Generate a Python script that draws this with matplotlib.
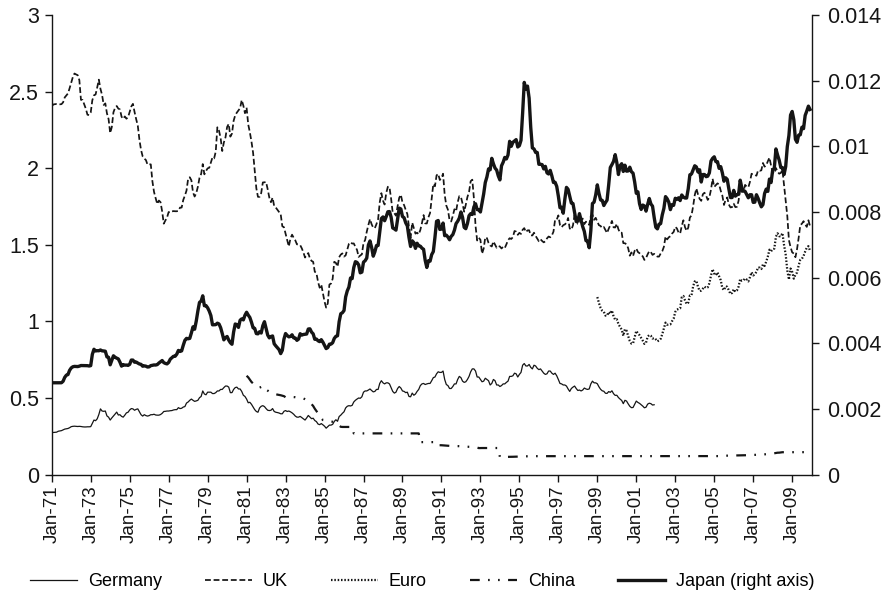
import numpy as np
import matplotlib
matplotlib.use("Agg")
import matplotlib.pyplot as plt
from matplotlib.lines import Line2D

# Monthly averages, January 1971 - December 2009
first_year = 1971
n_months = 468

tick_labels = ["Jan-71", "Jan-73", "Jan-75", "Jan-77", "Jan-79", "Jan-81", "Jan-83",
               "Jan-85", "Jan-87", "Jan-89", "Jan-91", "Jan-93", "Jan-95", "Jan-97",
               "Jan-99", "Jan-01", "Jan-03", "Jan-05", "Jan-07", "Jan-09"]

# Japan: yen per US dollar (plotted as dollars per yen on the right axis)
japan_yen = [
    358.0, 357.5, 357.6, 357.5, 357.5, 357.4, 357.4, 351.6, 337.6, 330.2, 328.1, 314.8,
    307.8, 304.4, 303.4, 303.7, 303.9, 302.7, 301.0, 301.1, 301.1, 301.1, 301.4, 302.3,
    301.3, 273.0, 261.9, 265.5, 264.9, 265.1, 263.4, 265.3, 265.5, 266.1, 279.0, 280.0,
    299.0, 287.6, 276.3, 279.7, 281.9, 283.8, 291.9, 302.7, 298.4, 299.9, 299.7, 300.6,
    297.8, 286.6, 286.7, 292.1, 291.6, 294.4, 296.8, 297.8, 302.9, 301.9, 302.8, 305.2,
    304.6, 301.3, 300.4, 299.4, 299.6, 298.4, 294.2, 291.1, 287.8, 293.2, 295.3, 296.5,
    292.6, 284.4, 280.9, 277.4, 277.4, 272.6, 264.4, 266.6, 265.3, 253.8, 244.5, 241.0,
    241.7, 241.0, 231.7, 222.2, 225.8, 213.8, 200.6, 190.6, 189.2, 183.6, 194.4, 194.2,
    196.8, 200.8, 206.4, 219.2, 219.1, 218.9, 216.8, 217.9, 223.3, 232.5, 243.6, 239.7,
    237.7, 244.0, 248.9, 251.9, 230.4, 218.0, 218.9, 223.0, 212.7, 210.8, 212.2, 206.0,
    202.2, 205.8, 208.9, 215.4, 223.6, 224.6, 232.8, 233.2, 229.8, 231.9, 220.4, 214.7,
    224.3, 235.3, 240.1, 237.8, 236.8, 251.0, 255.1, 258.7, 262.7, 271.3, 264.1, 242.5,
    232.7, 236.0, 238.3, 237.7, 234.8, 240.1, 240.4, 244.5, 242.3, 233.0, 235.3, 234.3,
    233.9, 233.5, 225.5, 225.2, 230.4, 233.2, 242.7, 242.2, 245.3, 246.9, 243.3, 247.9,
    254.2, 260.5, 258.4, 251.7, 251.6, 248.9, 241.1, 237.4, 236.5, 214.7, 204.1, 202.8,
    200.1, 184.8, 178.7, 175.1, 167.0, 167.5, 158.6, 154.2, 154.7, 156.5, 162.7, 162.1,
    154.5, 153.5, 151.6, 143.0, 140.5, 144.5, 150.3, 147.3, 143.3, 143.3, 135.4, 128.2,
    127.4, 129.3, 127.2, 124.9, 124.8, 127.5, 133.1, 133.6, 134.3, 128.5, 123.2, 123.6,
    127.2, 127.8, 130.4, 132.0, 138.4, 143.9, 140.4, 141.5, 145.1, 141.9, 143.5, 143.7,
    145.0, 145.7, 153.3, 158.5, 153.5, 153.8, 149.2, 147.2, 138.4, 129.6, 129.2, 133.9,
    133.7, 130.5, 137.4, 137.1, 138.2, 139.8, 137.8, 136.8, 134.3, 130.8, 129.6, 128.0,
    125.0, 127.6, 132.8, 133.5, 130.8, 126.8, 125.8, 126.2, 122.6, 121.2, 123.9, 123.9,
    125.0, 120.8, 117.0, 112.4, 110.3, 107.4, 107.7, 103.8, 105.6, 107.1, 107.8, 109.9,
    111.4, 106.3, 105.1, 103.5, 104.0, 102.7, 98.5, 100.0, 98.8, 98.4, 98.0, 100.2,
    99.8, 98.2, 90.8, 83.7, 85.2, 84.5, 87.2, 94.6, 100.5, 100.8, 101.9, 101.9,
    105.8, 105.8, 105.9, 107.4, 106.5, 108.8, 109.2, 107.9, 109.9, 112.4, 112.3, 113.9,
    117.9, 123.0, 122.8, 125.6, 119.2, 114.3, 115.1, 117.9, 120.9, 121.1, 125.4, 129.7,
    129.5, 125.8, 129.1, 132.4, 135.0, 140.3, 140.7, 144.7, 134.5, 121.1, 120.5, 117.4,
    113.3, 116.7, 119.5, 119.7, 122.0, 120.7, 119.6, 113.3, 106.9, 105.9, 104.8, 102.6,
    105.2, 109.4, 106.3, 105.6, 108.3, 106.1, 108.2, 108.1, 106.8, 108.4, 108.9, 112.2,
    116.7, 116.1, 121.2, 123.8, 121.8, 122.2, 124.6, 121.5, 118.9, 121.3, 122.3, 127.6,
    132.7, 133.6, 131.1, 130.8, 126.4, 123.3, 118.1, 119.0, 120.5, 123.9, 121.6, 121.9,
    118.8, 119.3, 118.6, 119.8, 117.4, 118.3, 118.7, 118.7, 114.8, 109.5, 109.2, 107.7,
    106.3, 106.7, 108.5, 107.7, 112.2, 109.4, 109.4, 110.2, 110.0, 108.8, 104.7, 103.8,
    103.3, 104.9, 104.9, 107.2, 106.6, 108.8, 111.9, 110.6, 111.2, 114.9, 118.5, 118.5,
    115.5, 117.9, 117.3, 117.1, 111.5, 114.5, 115.6, 115.9, 117.2, 118.6, 117.3, 117.3,
    120.6, 120.5, 117.3, 118.8, 120.8, 122.6, 121.6, 116.8, 115.0, 115.9, 111.1, 112.4,
    107.8, 107.1, 100.8, 102.7, 104.4, 106.9, 106.9, 109.4, 106.6, 100.1, 96.8, 91.3,
    90.4, 92.5, 97.9, 98.8, 96.7, 96.6, 94.5, 94.9, 91.4, 90.3, 89.1, 89.9,
]

# UK: US dollars per pound
uk = [
    2.404, 2.416, 2.418, 2.419, 2.418, 2.417, 2.418, 2.430, 2.462, 2.475, 2.488, 2.522,
    2.559, 2.595, 2.618, 2.612, 2.607, 2.575, 2.446, 2.446, 2.417, 2.388, 2.349, 2.347,
    2.363, 2.444, 2.476, 2.481, 2.527, 2.578, 2.518, 2.478, 2.413, 2.423, 2.358, 2.321,
    2.229, 2.269, 2.365, 2.394, 2.406, 2.389, 2.384, 2.336, 2.322, 2.338, 2.323, 2.333,
    2.367, 2.403, 2.420, 2.367, 2.320, 2.277, 2.186, 2.119, 2.077, 2.063, 2.053, 2.023,
    2.025, 2.025, 1.914, 1.845, 1.804, 1.766, 1.789, 1.778, 1.718, 1.638, 1.659, 1.678,
    1.714, 1.711, 1.718, 1.720, 1.719, 1.719, 1.721, 1.743, 1.743, 1.793, 1.821, 1.854,
    1.931, 1.941, 1.921, 1.842, 1.815, 1.837, 1.879, 1.937, 1.962, 2.027, 1.960, 1.982,
    1.999, 2.003, 2.036, 2.071, 2.064, 2.108, 2.267, 2.245, 2.197, 2.112, 2.168, 2.201,
    2.269, 2.289, 2.206, 2.226, 2.309, 2.346, 2.363, 2.377, 2.392, 2.445, 2.409, 2.359,
    2.395, 2.286, 2.235, 2.174, 2.101, 1.986, 1.869, 1.813, 1.813, 1.838, 1.907, 1.908,
    1.910, 1.862, 1.808, 1.778, 1.808, 1.752, 1.743, 1.728, 1.714, 1.700, 1.621, 1.615,
    1.573, 1.530, 1.489, 1.541, 1.566, 1.546, 1.529, 1.503, 1.502, 1.498, 1.477, 1.450,
    1.417, 1.435, 1.446, 1.411, 1.395, 1.389, 1.324, 1.316, 1.258, 1.220, 1.240, 1.186,
    1.129, 1.090, 1.118, 1.241, 1.247, 1.278, 1.389, 1.382, 1.357, 1.419, 1.436, 1.444,
    1.423, 1.431, 1.468, 1.506, 1.517, 1.508, 1.509, 1.487, 1.467, 1.421, 1.430, 1.438,
    1.512, 1.531, 1.585, 1.629, 1.668, 1.634, 1.612, 1.609, 1.636, 1.667, 1.777, 1.837,
    1.788, 1.763, 1.838, 1.879, 1.876, 1.801, 1.709, 1.706, 1.690, 1.752, 1.807, 1.827,
    1.776, 1.759, 1.728, 1.701, 1.617, 1.542, 1.645, 1.610, 1.573, 1.579, 1.568, 1.597,
    1.642, 1.694, 1.640, 1.639, 1.680, 1.708, 1.804, 1.897, 1.882, 1.953, 1.963, 1.923,
    1.935, 1.964, 1.826, 1.756, 1.729, 1.660, 1.652, 1.689, 1.732, 1.718, 1.777, 1.818,
    1.813, 1.769, 1.716, 1.762, 1.812, 1.845, 1.915, 1.925, 1.803, 1.623, 1.528, 1.546,
    1.533, 1.442, 1.475, 1.549, 1.544, 1.513, 1.496, 1.489, 1.522, 1.502, 1.481, 1.492,
    1.489, 1.476, 1.487, 1.479, 1.503, 1.530, 1.543, 1.538, 1.550, 1.590, 1.586, 1.565,
    1.578, 1.571, 1.598, 1.609, 1.583, 1.594, 1.595, 1.562, 1.561, 1.579, 1.558, 1.541,
    1.523, 1.536, 1.525, 1.516, 1.523, 1.542, 1.554, 1.549, 1.561, 1.586, 1.664, 1.664,
    1.692, 1.629, 1.614, 1.628, 1.633, 1.644, 1.675, 1.607, 1.598, 1.627, 1.695, 1.659,
    1.637, 1.638, 1.661, 1.671, 1.635, 1.651, 1.645, 1.630, 1.688, 1.697, 1.663, 1.676,
    1.651, 1.628, 1.623, 1.609, 1.616, 1.596, 1.577, 1.605, 1.628, 1.656, 1.614, 1.613,
    1.637, 1.601, 1.578, 1.579, 1.511, 1.510, 1.503, 1.478, 1.429, 1.450, 1.427, 1.461,
    1.476, 1.453, 1.445, 1.435, 1.424, 1.401, 1.414, 1.438, 1.459, 1.452, 1.434, 1.441,
    1.431, 1.423, 1.423, 1.443, 1.458, 1.487, 1.554, 1.535, 1.549, 1.556, 1.573, 1.584,
    1.617, 1.607, 1.581, 1.573, 1.623, 1.660, 1.615, 1.591, 1.612, 1.678, 1.692, 1.751,
    1.824, 1.868, 1.829, 1.800, 1.787, 1.830, 1.840, 1.821, 1.793, 1.810, 1.860, 1.931,
    1.878, 1.889, 1.901, 1.894, 1.853, 1.821, 1.760, 1.794, 1.809, 1.763, 1.744, 1.746,
    1.768, 1.746, 1.748, 1.788, 1.873, 1.845, 1.846, 1.891, 1.880, 1.875, 1.911, 1.964,
    1.959, 1.956, 1.951, 1.986, 1.983, 1.986, 2.034, 2.010, 2.019, 2.045, 2.069, 2.017,
    1.973, 1.965, 2.001, 1.978, 1.964, 1.969, 1.989, 1.890, 1.789, 1.688, 1.530, 1.485,
    1.451, 1.443, 1.419, 1.472, 1.546, 1.628, 1.638, 1.654, 1.633, 1.617, 1.660, 1.622,
]

# Germany: US dollars per Deutsche mark, Jan-71 to Dec-01
germany_start_year = 1971
germany = [
    0.274, 0.275, 0.276, 0.277, 0.283, 0.285, 0.287, 0.292, 0.297, 0.299, 0.301, 0.306,
    0.313, 0.315, 0.316, 0.315, 0.314, 0.315, 0.314, 0.312, 0.311, 0.311, 0.312, 0.312,
    0.313, 0.335, 0.356, 0.352, 0.364, 0.392, 0.429, 0.415, 0.413, 0.415, 0.383, 0.375,
    0.356, 0.370, 0.382, 0.395, 0.408, 0.389, 0.391, 0.380, 0.375, 0.388, 0.403, 0.407,
    0.422, 0.431, 0.429, 0.420, 0.426, 0.429, 0.410, 0.391, 0.382, 0.391, 0.385, 0.382,
    0.385, 0.391, 0.391, 0.394, 0.389, 0.388, 0.388, 0.392, 0.400, 0.412, 0.413, 0.415,
    0.415, 0.417, 0.418, 0.422, 0.424, 0.424, 0.437, 0.431, 0.433, 0.441, 0.444, 0.467,
    0.474, 0.485, 0.493, 0.485, 0.478, 0.481, 0.485, 0.502, 0.510, 0.546, 0.526, 0.521,
    0.538, 0.538, 0.538, 0.529, 0.529, 0.535, 0.546, 0.546, 0.556, 0.556, 0.568, 0.578,
    0.578, 0.571, 0.535, 0.535, 0.556, 0.568, 0.571, 0.559, 0.559, 0.543, 0.518, 0.510,
    0.493, 0.469, 0.472, 0.459, 0.441, 0.424, 0.412, 0.407, 0.435, 0.446, 0.450, 0.444,
    0.431, 0.420, 0.418, 0.420, 0.431, 0.412, 0.407, 0.405, 0.402, 0.397, 0.397, 0.413,
    0.418, 0.412, 0.415, 0.410, 0.403, 0.394, 0.382, 0.375, 0.375, 0.380, 0.372, 0.364,
    0.356, 0.370, 0.386, 0.375, 0.365, 0.368, 0.353, 0.346, 0.330, 0.326, 0.333, 0.325,
    0.316, 0.303, 0.313, 0.323, 0.323, 0.328, 0.347, 0.358, 0.348, 0.379, 0.388, 0.400,
    0.410, 0.435, 0.446, 0.450, 0.448, 0.452, 0.474, 0.485, 0.493, 0.500, 0.498, 0.508,
    0.538, 0.546, 0.546, 0.552, 0.559, 0.549, 0.540, 0.543, 0.556, 0.556, 0.595, 0.613,
    0.599, 0.592, 0.599, 0.599, 0.592, 0.568, 0.543, 0.532, 0.538, 0.562, 0.575, 0.565,
    0.546, 0.543, 0.535, 0.538, 0.510, 0.508, 0.532, 0.518, 0.526, 0.543, 0.556, 0.581,
    0.592, 0.595, 0.588, 0.592, 0.595, 0.595, 0.613, 0.633, 0.637, 0.658, 0.671, 0.667,
    0.667, 0.676, 0.621, 0.588, 0.581, 0.562, 0.562, 0.575, 0.592, 0.592, 0.621, 0.641,
    0.633, 0.610, 0.602, 0.606, 0.621, 0.641, 0.671, 0.690, 0.690, 0.676, 0.637, 0.637,
    0.621, 0.606, 0.610, 0.629, 0.621, 0.613, 0.585, 0.595, 0.621, 0.613, 0.585, 0.585,
    0.575, 0.581, 0.592, 0.592, 0.602, 0.610, 0.641, 0.641, 0.645, 0.662, 0.658, 0.637,
    0.654, 0.667, 0.714, 0.725, 0.709, 0.709, 0.719, 0.700, 0.690, 0.714, 0.709, 0.694,
    0.685, 0.690, 0.676, 0.662, 0.654, 0.658, 0.676, 0.676, 0.662, 0.654, 0.662, 0.645,
    0.621, 0.595, 0.592, 0.585, 0.585, 0.578, 0.559, 0.543, 0.562, 0.571, 0.578, 0.562,
    0.549, 0.552, 0.546, 0.552, 0.565, 0.559, 0.556, 0.559, 0.592, 0.610, 0.599, 0.599,
    0.593, 0.573, 0.557, 0.547, 0.544, 0.531, 0.530, 0.542, 0.537, 0.547, 0.528, 0.517,
    0.518, 0.503, 0.493, 0.484, 0.463, 0.485, 0.480, 0.462, 0.446, 0.437, 0.438, 0.459,
    0.480, 0.471, 0.465, 0.456, 0.447, 0.436, 0.440, 0.460, 0.466, 0.463, 0.454, 0.456,
]

# Euro: US dollars per euro, Jan-99 to Dec-09
euro_start_year = 1999
euro = [
    1.159, 1.120, 1.089, 1.070, 1.063, 1.038, 1.037, 1.061, 1.050, 1.071, 1.033, 1.011,
    1.014, 0.983, 0.964, 0.947, 0.906, 0.949, 0.940, 0.904, 0.872, 0.855, 0.856, 0.897,
    0.938, 0.922, 0.910, 0.892, 0.874, 0.853, 0.861, 0.901, 0.911, 0.906, 0.888, 0.892,
    0.883, 0.870, 0.876, 0.886, 0.917, 0.955, 0.992, 0.978, 0.981, 0.981, 1.001, 1.018,
    1.062, 1.077, 1.081, 1.085, 1.158, 1.166, 1.137, 1.114, 1.122, 1.169, 1.170, 1.229,
    1.261, 1.265, 1.226, 1.199, 1.201, 1.214, 1.227, 1.218, 1.222, 1.249, 1.299, 1.341,
    1.312, 1.301, 1.320, 1.294, 1.269, 1.217, 1.204, 1.229, 1.226, 1.202, 1.179, 1.186,
    1.210, 1.194, 1.202, 1.227, 1.277, 1.265, 1.268, 1.281, 1.273, 1.261, 1.288, 1.321,
    1.300, 1.307, 1.324, 1.352, 1.351, 1.342, 1.372, 1.362, 1.390, 1.423, 1.468, 1.457,
    1.472, 1.475, 1.553, 1.575, 1.556, 1.555, 1.577, 1.498, 1.437, 1.332, 1.273, 1.345,
    1.324, 1.279, 1.305, 1.319, 1.365, 1.402, 1.409, 1.427, 1.456, 1.482, 1.491, 1.461,
]

# China: US dollars per yuan, Jan-81 to Dec-09
china_start_year = 1981
china = [
    0.645, 0.635, 0.620, 0.605, 0.595, 0.585, 0.575, 0.570, 0.568, 0.572, 0.578, 0.574,
    0.555, 0.548, 0.540, 0.535, 0.532, 0.528, 0.525, 0.522, 0.520, 0.518, 0.515, 0.512,
    0.505, 0.507, 0.506, 0.504, 0.505, 0.506, 0.505, 0.503, 0.502, 0.500, 0.499, 0.497,
    0.492, 0.486, 0.478, 0.470, 0.460, 0.448, 0.430, 0.415, 0.400, 0.385, 0.368, 0.356,
    0.355, 0.352, 0.350, 0.348, 0.346, 0.345, 0.343, 0.340, 0.335, 0.320, 0.312, 0.311,
    0.311, 0.311, 0.311, 0.311, 0.311, 0.311, 0.269, 0.269, 0.269, 0.269, 0.269, 0.269,
    0.269, 0.269, 0.269, 0.269, 0.269, 0.269, 0.269, 0.269, 0.269, 0.269, 0.269, 0.269,
    0.269, 0.269, 0.269, 0.269, 0.269, 0.269, 0.269, 0.269, 0.269, 0.269, 0.269, 0.269,
    0.269, 0.269, 0.269, 0.269, 0.269, 0.269, 0.269, 0.269, 0.269, 0.269, 0.269, 0.212,
    0.212, 0.212, 0.212, 0.212, 0.212, 0.212, 0.212, 0.212, 0.212, 0.212, 0.192, 0.192,
    0.1916, 0.1911, 0.1900, 0.1890, 0.1880, 0.1875, 0.1870, 0.1868, 0.1865, 0.1863, 0.1860, 0.1850,
    0.1835, 0.1830, 0.1825, 0.1820, 0.1818, 0.1815, 0.1815, 0.1810, 0.1800, 0.1790, 0.1770, 0.1730,
    0.1735, 0.1735, 0.1735, 0.1735, 0.1735, 0.1735, 0.1735, 0.1735, 0.1735, 0.1735, 0.1735, 0.1735,
    0.1149, 0.1150, 0.1152, 0.1153, 0.1154, 0.1155, 0.1157, 0.1160, 0.1164, 0.1168, 0.1172, 0.1178,
    0.1185, 0.1188, 0.1191, 0.1195, 0.1198, 0.1200, 0.1202, 0.1203, 0.1204, 0.1204, 0.1204, 0.1204,
    0.1203, 0.1203, 0.1203, 0.1203, 0.1203, 0.1204, 0.1204, 0.1205, 0.1205, 0.1205, 0.1205, 0.1205,
    0.1205, 0.1205, 0.1206, 0.1206, 0.1206, 0.1206, 0.1206, 0.1207, 0.1207, 0.1207, 0.1207, 0.1208,
    0.1208, 0.1208, 0.1208, 0.1208, 0.1208, 0.1208, 0.1208, 0.1208, 0.1208, 0.1208, 0.1208, 0.1208,
    0.1208, 0.1208, 0.1208, 0.1208, 0.1208, 0.1208, 0.1208, 0.1208, 0.1208, 0.1208, 0.1208, 0.1208,
    0.1208, 0.1208, 0.1208, 0.1208, 0.1208, 0.1208, 0.1208, 0.1208, 0.1208, 0.1208, 0.1208, 0.1208,
    0.1208, 0.1208, 0.1208, 0.1208, 0.1208, 0.1208, 0.1208, 0.1208, 0.1208, 0.1208, 0.1208, 0.1208,
    0.1208, 0.1208, 0.1208, 0.1208, 0.1208, 0.1208, 0.1208, 0.1208, 0.1208, 0.1208, 0.1208, 0.1208,
    0.1208, 0.1208, 0.1208, 0.1208, 0.1208, 0.1208, 0.1208, 0.1208, 0.1208, 0.1208, 0.1208, 0.1208,
    0.1208, 0.1208, 0.1208, 0.1208, 0.1208, 0.1208, 0.1208, 0.1208, 0.1208, 0.1208, 0.1208, 0.1208,
    0.1208, 0.1208, 0.1208, 0.1208, 0.1208, 0.1208, 0.1215, 0.1234, 0.1236, 0.1237, 0.1238, 0.1239,
    0.1241, 0.1244, 0.1246, 0.1247, 0.1248, 0.1250, 0.1252, 0.1255, 0.1260, 0.1265, 0.1271, 0.1278,
    0.1283, 0.1290, 0.1294, 0.1296, 0.1303, 0.1311, 0.1320, 0.1321, 0.1330, 0.1333, 0.1347, 0.1356,
    0.1382, 0.1393, 0.1412, 0.1429, 0.1432, 0.1447, 0.1461, 0.1461, 0.1463, 0.1463, 0.1464, 0.1463,
    0.1463, 0.1463, 0.1463, 0.1464, 0.1465, 0.1464, 0.1464, 0.1464, 0.1465, 0.1465, 0.1465, 0.1465,
]

series_names = ["Germany", "UK", "Euro", "China", "Japan (right axis)"]

plt.rcParams["font.family"] = ["Liberation Sans", "DejaVu Sans"]
plt.rcParams["lines.scale_dashes"] = False

def month_index(start_year, values):
    start = (start_year - first_year) * 12
    return np.arange(start, start + len(values))

fig = plt.figure(figsize=(8.89, 6.0), dpi=100)
ax = fig.add_axes([0.0582, 0.209, 0.8548, 0.766])
ax2 = ax.twinx()

ink = "#151515"

style_germany = dict(color=ink, lw=0.9)
style_uk = dict(color=ink, lw=1.25, dashes=(4.2, 2.0), dash_capstyle="butt")
style_euro = dict(color=ink, lw=1.6, dashes=(1.1, 1.3), dash_capstyle="butt")
style_china = dict(color=ink, lw=1.6, dashes=(7.0, 6.0, 1.2, 6.0, 1.2, 6.0),
                   dash_capstyle="butt")
style_japan = dict(color=ink, lw=2.4)

ax.plot(month_index(germany_start_year, germany), germany, **style_germany)
ax.plot(month_index(first_year, uk), uk, **style_uk)
ax.plot(month_index(euro_start_year, euro), euro, **style_euro)
ax.plot(month_index(china_start_year, china), china, **style_china)
japan_usd = 1.0 / np.array(japan_yen)
ax2.plot(month_index(first_year, japan_yen), japan_usd, **style_japan)

ax.set_xlim(0, n_months)
ax.set_ylim(0, 3)
ax2.set_ylim(0, 0.014)

ax.set_xticks(np.arange(0, n_months, 24))
ax.set_xticklabels(tick_labels, rotation=90, fontsize=13.5)
ax.set_yticks([0, 0.5, 1, 1.5, 2, 2.5, 3])
ax.set_yticklabels(["0", "0.5", "1", "1.5", "2", "2.5", "3"], fontsize=15.5)
ax2.set_yticks([0, 0.002, 0.004, 0.006, 0.008, 0.01, 0.012, 0.014])
ax2.set_yticklabels(["0", "0.002", "0.004", "0.006", "0.008", "0.01", "0.012", "0.014"],
                    fontsize=15.5)

for a in (ax, ax2):
    a.spines["top"].set_visible(False)
    for s in ("left", "right", "bottom"):
        a.spines[s].set_color(ink)
        a.spines[s].set_linewidth(1.0)
    a.tick_params(direction="out", length=5, width=1.0, color=ink, labelcolor=ink)
ax2.spines["left"].set_visible(False)
ax2.spines["bottom"].set_visible(False)
ax.spines["right"].set_visible(False)
ax.tick_params(axis="x", pad=3)
ax.tick_params(axis="y", pad=4)
ax2.tick_params(axis="y", pad=6)

handles = [Line2D([], [], **st) for st in
           (style_germany, style_uk, style_euro, style_china, style_japan)]
fig.legend(handles, series_names, loc="center", bbox_to_anchor=(0.475, 0.03), ncol=5,
           frameon=False, fontsize=13, handlelength=2.6, handletextpad=0.6,
           columnspacing=2.4)

fig.savefig("out.png", dpi=100)
